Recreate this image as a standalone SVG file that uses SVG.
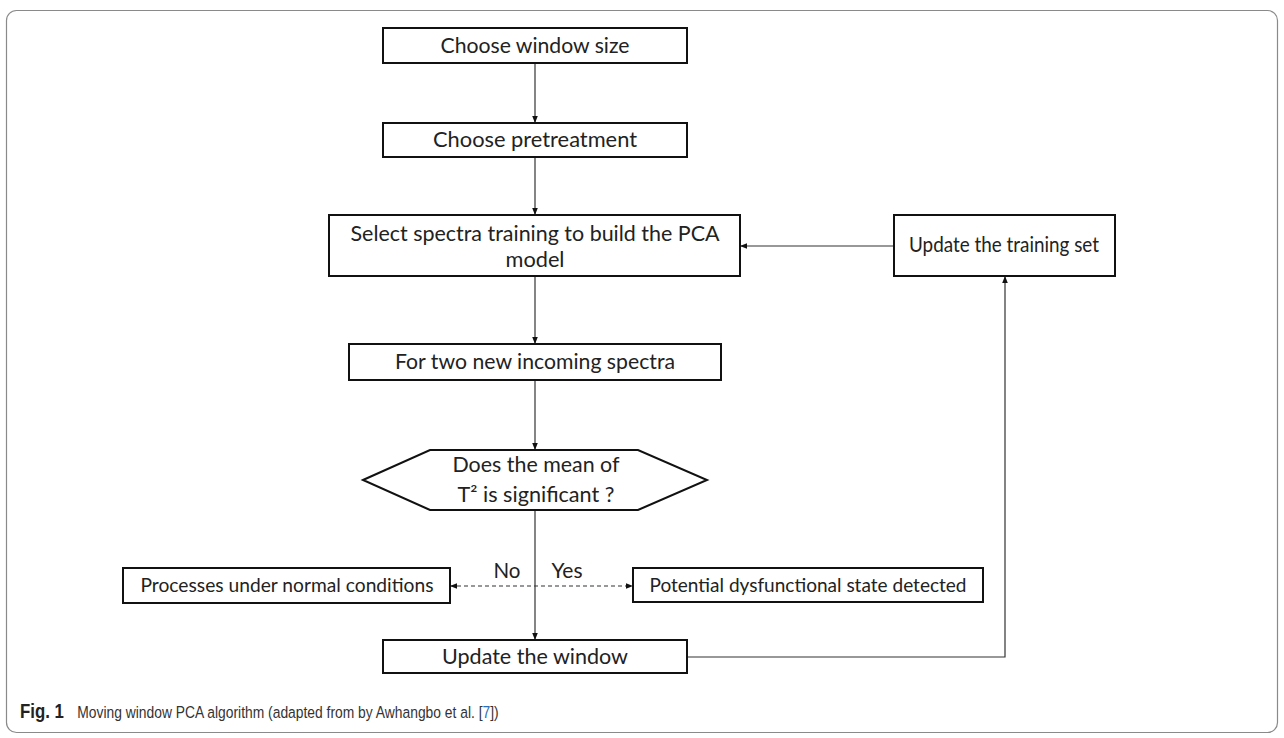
<svg xmlns="http://www.w3.org/2000/svg" width="1284" height="738" viewBox="0 0 1284 738">
<defs>
<marker id="ah" viewBox="0 0 10 10" refX="10" refY="5" markerWidth="7" markerHeight="7" markerUnits="userSpaceOnUse" orient="auto-start-reverse">
<path d="M0,1 L10,5 L0,9 z" fill="#111"/>
</marker>
<style>
.box{fill:#fff;stroke:#111;stroke-width:2}
.t{font-family:Lato,"Open Sans","Liberation Sans",sans-serif;font-size:21px;fill:#222;text-anchor:middle}
.ts{font-family:Lato,"Open Sans","Liberation Sans",sans-serif;font-size:19px;fill:#222;text-anchor:middle}
.c{fill:none;stroke:#333;stroke-width:1.2}
.d{stroke-dasharray:4 3}
.cap{font-family:"Liberation Sans",Arial,sans-serif;font-size:16.5px;fill:#333}
</style>
</defs>
<rect x="6.5" y="10.5" width="1271" height="722" rx="10" ry="10" fill="#fff" stroke="#8a8a8a" stroke-width="1.2"/>
<g id="connectors">
<path class="c" d="M535,63 V123" marker-end="url(#ah)"/>
<path class="c" d="M535,157 V215" marker-end="url(#ah)"/>
<path class="c" d="M535,276 V344" marker-end="url(#ah)"/>
<path class="c" d="M535,380 V450" marker-end="url(#ah)"/>
<path class="c" d="M535,510 V640" marker-end="url(#ah)"/>
<path class="c d" d="M450,586 H633" marker-start="url(#ah)" marker-end="url(#ah)"/>
<path class="c" d="M687,657 H1005 V276" marker-end="url(#ah)"/>
<path class="c" d="M894,246 H740" marker-end="url(#ah)"/>
<text class="t" x="507" y="578" textLength="27" lengthAdjust="spacingAndGlyphs">No</text>
<text class="t" x="567" y="578" textLength="31" lengthAdjust="spacingAndGlyphs">Yes</text>
</g>
<g id="n1">
<rect class="box" x="383" y="28" width="304" height="35"/>
<text class="t" x="535" y="53" textLength="189" lengthAdjust="spacingAndGlyphs">Choose window size</text>
</g>
<g id="n2">
<rect class="box" x="383" y="123" width="304" height="34"/>
<text class="t" x="535" y="147" textLength="204" lengthAdjust="spacingAndGlyphs">Choose pretreatment</text>
</g>
<g id="n3">
<rect class="box" x="329" y="215" width="411" height="61"/>
<text class="t" x="535" y="241" textLength="369" lengthAdjust="spacingAndGlyphs">Select spectra training to build the PCA</text>
<text class="t" x="535" y="267" textLength="59" lengthAdjust="spacingAndGlyphs">model</text>
</g>
<g id="n4">
<rect class="box" x="349" y="344" width="372" height="36"/>
<text class="t" x="535" y="369" textLength="280" lengthAdjust="spacingAndGlyphs">For two new incoming spectra</text>
</g>
<g id="n5">
<polygon points="363,480 430,450 638,450 707,480 638,510 430,510" fill="#fff" stroke="#111" stroke-width="2"/>
<text class="t" x="536" y="472" textLength="167" lengthAdjust="spacingAndGlyphs">Does the mean of</text>
<text class="t" x="536" y="502" textLength="157" lengthAdjust="spacingAndGlyphs">T² is significant ?</text>
</g>
<g id="n6">
<rect class="box" x="123" y="568" width="327" height="35"/>
<text class="ts" x="287" y="592" textLength="293" lengthAdjust="spacingAndGlyphs">Processes under normal conditions</text>
</g>
<g id="n7">
<rect class="box" x="633" y="568" width="350" height="34"/>
<text class="ts" x="808" y="592" textLength="317" lengthAdjust="spacingAndGlyphs">Potential dysfunctional state detected</text>
</g>
<g id="n8">
<rect class="box" x="383" y="640" width="304" height="33"/>
<text class="t" x="535" y="664" textLength="186" lengthAdjust="spacingAndGlyphs">Update the window</text>
</g>
<g id="n9">
<rect class="box" x="894" y="215" width="221" height="61"/>
<text class="t" x="1004" y="252" textLength="190" lengthAdjust="spacingAndGlyphs">Update the training set</text>
</g>
<text class="cap" transform="translate(20,718) scale(0.84,1)" x="0" y="0"><tspan font-weight="bold" fill="#222" font-size="20">Fig. 1</tspan><tspan dx="16">Moving window PCA algorithm (adapted from by Awhangbo et al. [</tspan><tspan fill="#2a6ebb">7</tspan><tspan>])</tspan></text>
</svg>
